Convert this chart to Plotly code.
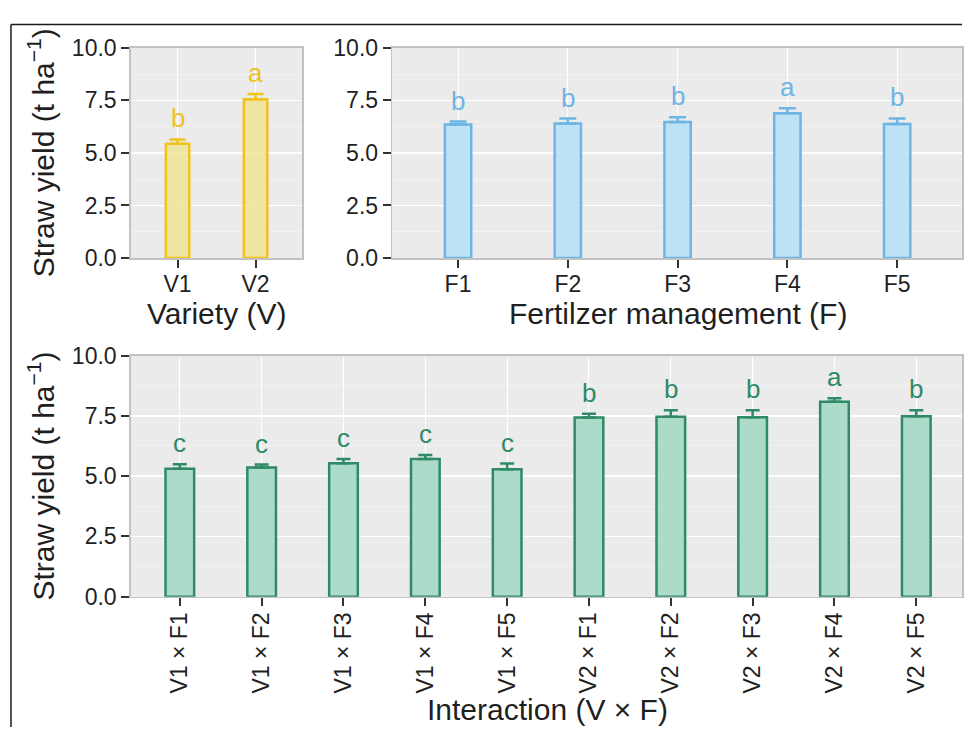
import plotly.graph_objects as go

# ---------------- data ----------------
variety = ["V1", "V2"]
variety_mean = [5.43, 7.55]
variety_se = [0.21, 0.25]
variety_letters = ["b", "a"]

fert = ["F1", "F2", "F3", "F4", "F5"]
fert_mean = [6.35, 6.40, 6.47, 6.89, 6.37]
fert_se = [0.14, 0.23, 0.22, 0.23, 0.27]
fert_letters = ["b", "b", "b", "a", "b"]

inter = ["V1 × F1", "V1 × F2", "V1 × F3", "V1 × F4", "V1 × F5",
         "V2 × F1", "V2 × F2", "V2 × F3", "V2 × F4", "V2 × F5"]
inter_mean = [5.31, 5.36, 5.53, 5.71, 5.29, 7.43, 7.46, 7.44, 8.08, 7.48]
inter_se = [0.18, 0.12, 0.18, 0.17, 0.23, 0.16, 0.27, 0.29, 0.15, 0.25]
inter_letters = ["c", "c", "c", "c", "c", "b", "b", "b", "a", "b"]

y_ticks = [0, 2.5, 5, 7.5, 10]
y_ticktext = ["0.0", "2.5", "5.0", "7.5", "10.0"]

# ---------------- style ----------------
W, H = 964, 740
FONT = "Liberation Sans, Arial, sans-serif"
PANEL_BG = "#EBEBEB"
BORDER = "#C2C2C2"
TXT = "#1F1F1F"

V_FILL, V_LINE = "rgba(240,228,150,0.85)", "#EFC21E"
F_FILL, F_LINE = "rgba(184,224,246,0.9)", "#6DB5E5"
I_FILL, I_LINE = "rgba(170,218,200,0.95)", "#2E8A67"


def px_x(p):
    return p / W


def px_y(p):
    return 1 - p / H


fig = go.Figure()


def add_panel(cats, mean, se, letters, fill, line, width, cap, xa, ya):
    fig.add_trace(go.Bar(
        x=cats, y=mean, width=width,
        marker=dict(color=fill, line=dict(color=line, width=2.5)),
        error_y=dict(type="data", symmetric=False, array=se,
                     arrayminus=[0] * len(se), color=line,
                     thickness=2.5, width=cap),
        xaxis=xa, yaxis=ya, showlegend=False, hoverinfo="skip",
    ))
    for c, m, s, l in zip(cats, mean, se, letters):
        fig.add_annotation(
            x=c, y=m + s, xref=xa, yref=ya, text=l, showarrow=False,
            yanchor="bottom", yshift=4,
            font=dict(family=FONT, size=26, color=line),
        )


add_panel(variety, variety_mean, variety_se, variety_letters,
          V_FILL, V_LINE, 0.3, 8, "x", "y")
add_panel(fert, fert_mean, fert_se, fert_letters,
          F_FILL, F_LINE, 0.24, 8.5, "x2", "y2")
add_panel(inter, inter_mean, inter_se, inter_letters,
          I_FILL, I_LINE, 0.35, 7, "x3", "y3")


def xaxis_cfg(domain, rng, anchor, angle=0):
    return dict(
        domain=domain, range=rng, anchor=anchor, type="category",
        showgrid=True, gridcolor="white", gridwidth=1,
        showline=True, linecolor=BORDER, linewidth=1.5, mirror=True,
        ticks="outside", ticklen=8, tickwidth=2, tickcolor="#333333",
        tickfont=dict(family=FONT, size=23, color=TXT),
        ticklabelstandoff=-3,
        tickangle=angle, zeroline=False, fixedrange=True,
    )


def yaxis_cfg(domain, anchor):
    return dict(
        domain=domain, range=[0, 10], anchor=anchor,
        tickvals=y_ticks, ticktext=y_ticktext,
        showgrid=True, gridcolor="white", gridwidth=1.6,
        minor=dict(dtick=1.25, tick0=0, showgrid=True,
                   gridcolor="#F4F4F4", gridwidth=0.8, ticks=""),
        showline=True, linecolor=BORDER, linewidth=1.5, mirror=True,
        ticks="outside", ticklen=8, tickwidth=2, tickcolor="#333333",
        tickfont=dict(family=FONT, size=23, color=TXT),
        zeroline=False, fixedrange=True,
    )


top_y = [px_y(254), px_y(36)]
bot_y = [px_y(605), px_y(355)]

fig.update_layout(
    width=W, height=H,
    margin=dict(l=0, r=0, t=0, b=0),
    paper_bgcolor="white", plot_bgcolor=PANEL_BG,
    font=dict(family=FONT, color=TXT),
    bargap=0,
    xaxis=xaxis_cfg([px_x(131), px_x(303)], [-0.6, 1.6], "y"),
    yaxis=yaxis_cfg(top_y, "x"),
    xaxis2=xaxis_cfg([px_x(393), 1], [-0.6, -0.6 + (964 - 393) / 110], "y2"),
    yaxis2=yaxis_cfg(top_y, "x2"),
    xaxis3=xaxis_cfg([px_x(131), 1], [-0.6, -0.6 + (964 - 131) / 82], "y3", -90),
    yaxis3=yaxis_cfg(bot_y, "x3"),
)

TITLE_FONT = dict(family=FONT, size=30, color=TXT)
titles = [
    ("Variety (V)", px_x(217), px_y(311), 0),
    ("Fertilzer management (F)", px_x(679.5), px_y(311), 0),
    ("Interaction (V × F)", px_x(549), px_y(722), 0),
    ("Straw yield (t ha<sup>−1</sup>)", px_x(41.5), px_y(145), -90),
    ("Straw yield (t ha<sup>−1</sup>)", px_x(41.5), px_y(480), -90),
]
for t, x, y, ang in titles:
    fig.add_annotation(text=t, x=x, y=y, xref="paper", yref="paper",
                       xanchor="center", yanchor="middle", textangle=ang,
                       showarrow=False, font=TITLE_FONT)

# outer frame (top and left edges visible)
fig.add_shape(type="line", xref="paper", yref="paper",
              x0=px_x(11), y0=px_y(12), x1=1, y1=px_y(12),
              line=dict(color="#1A1A1A", width=1.5))
fig.add_shape(type="line", xref="paper", yref="paper",
              x0=px_x(11), y0=px_y(12), x1=px_x(11), y1=0,
              line=dict(color="#1A1A1A", width=1.5))

fig.write_html(
    "out.html",
    config={"displayModeBar": False, "staticPlot": True},
    post_script=(
        "document.documentElement.style.margin='0';"
        "document.body.style.margin='0';"
        "document.body.style.overflow='hidden';"
        "var g=document.getElementById('{plot_id}');"
        "g.style.position='fixed';g.style.top='0px';g.style.left='0px';"
    ),
)
